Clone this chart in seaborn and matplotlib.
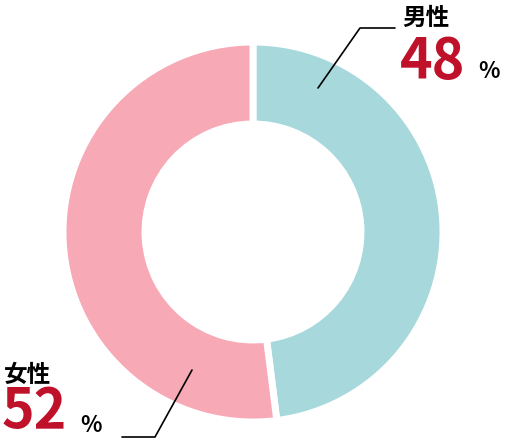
import matplotlib
matplotlib.use("Agg")
import matplotlib.pyplot as plt
import seaborn as sns

sns.set_theme(style="white")
plt.rcParams["font.family"] = ["Noto Sans CJK JP", "DejaVu Sans"]

# ---Data---
labels = ["男性", "女性"]
shares = [48, 52]
colors = ["#a6d8dc", "#f7a9b5"]
red = "#c0112b"

fig = plt.figure(figsize=(5.1, 4.42), dpi=100)
ax = fig.add_axes([0, 0, 1, 1])

cx, cy, r_out = 253, 442 - 232, 190
ax.pie(
    shares,
    colors=colors,
    startangle=90,
    counterclock=False,
    center=(cx, cy),
    radius=r_out,
    wedgeprops=dict(width=82, edgecolor="white", linewidth=5),
    frame=True,
)
ax.set_xlim(0, 510)
ax.set_ylim(0, 442)
ax.set_aspect("equal")
ax.axis("off")

# leader lines
ax.plot([318, 360, 395], [442 - 88, 442 - 28, 442 - 28], color="black", lw=1.2)
ax.plot([192, 155, 122], [442 - 370, 442 - 437, 442 - 437], color="black", lw=1.2)

# male label
ax.text(402, 442 - 18, labels[0], fontsize=17, fontweight="bold", color="black", va="center", ha="left")
ax.text(400, 442 - 62, f"{shares[0]}", fontsize=40, fontweight="bold", color=red, va="center", ha="left")
ax.text(478, 442 - 72, "%", fontsize=16, fontweight="bold", color="black", va="center", ha="left")

# female label
ax.text(4, 442 - 375, labels[1], fontsize=17, fontweight="bold", color="black", va="center", ha="left")
ax.text(2, 442 - 412, f"{shares[1]}", fontsize=40, fontweight="bold", color=red, va="center", ha="left")
ax.text(80, 442 - 426, "%", fontsize=16, fontweight="bold", color="black", va="center", ha="left")

fig.savefig("out.png", dpi=100)
